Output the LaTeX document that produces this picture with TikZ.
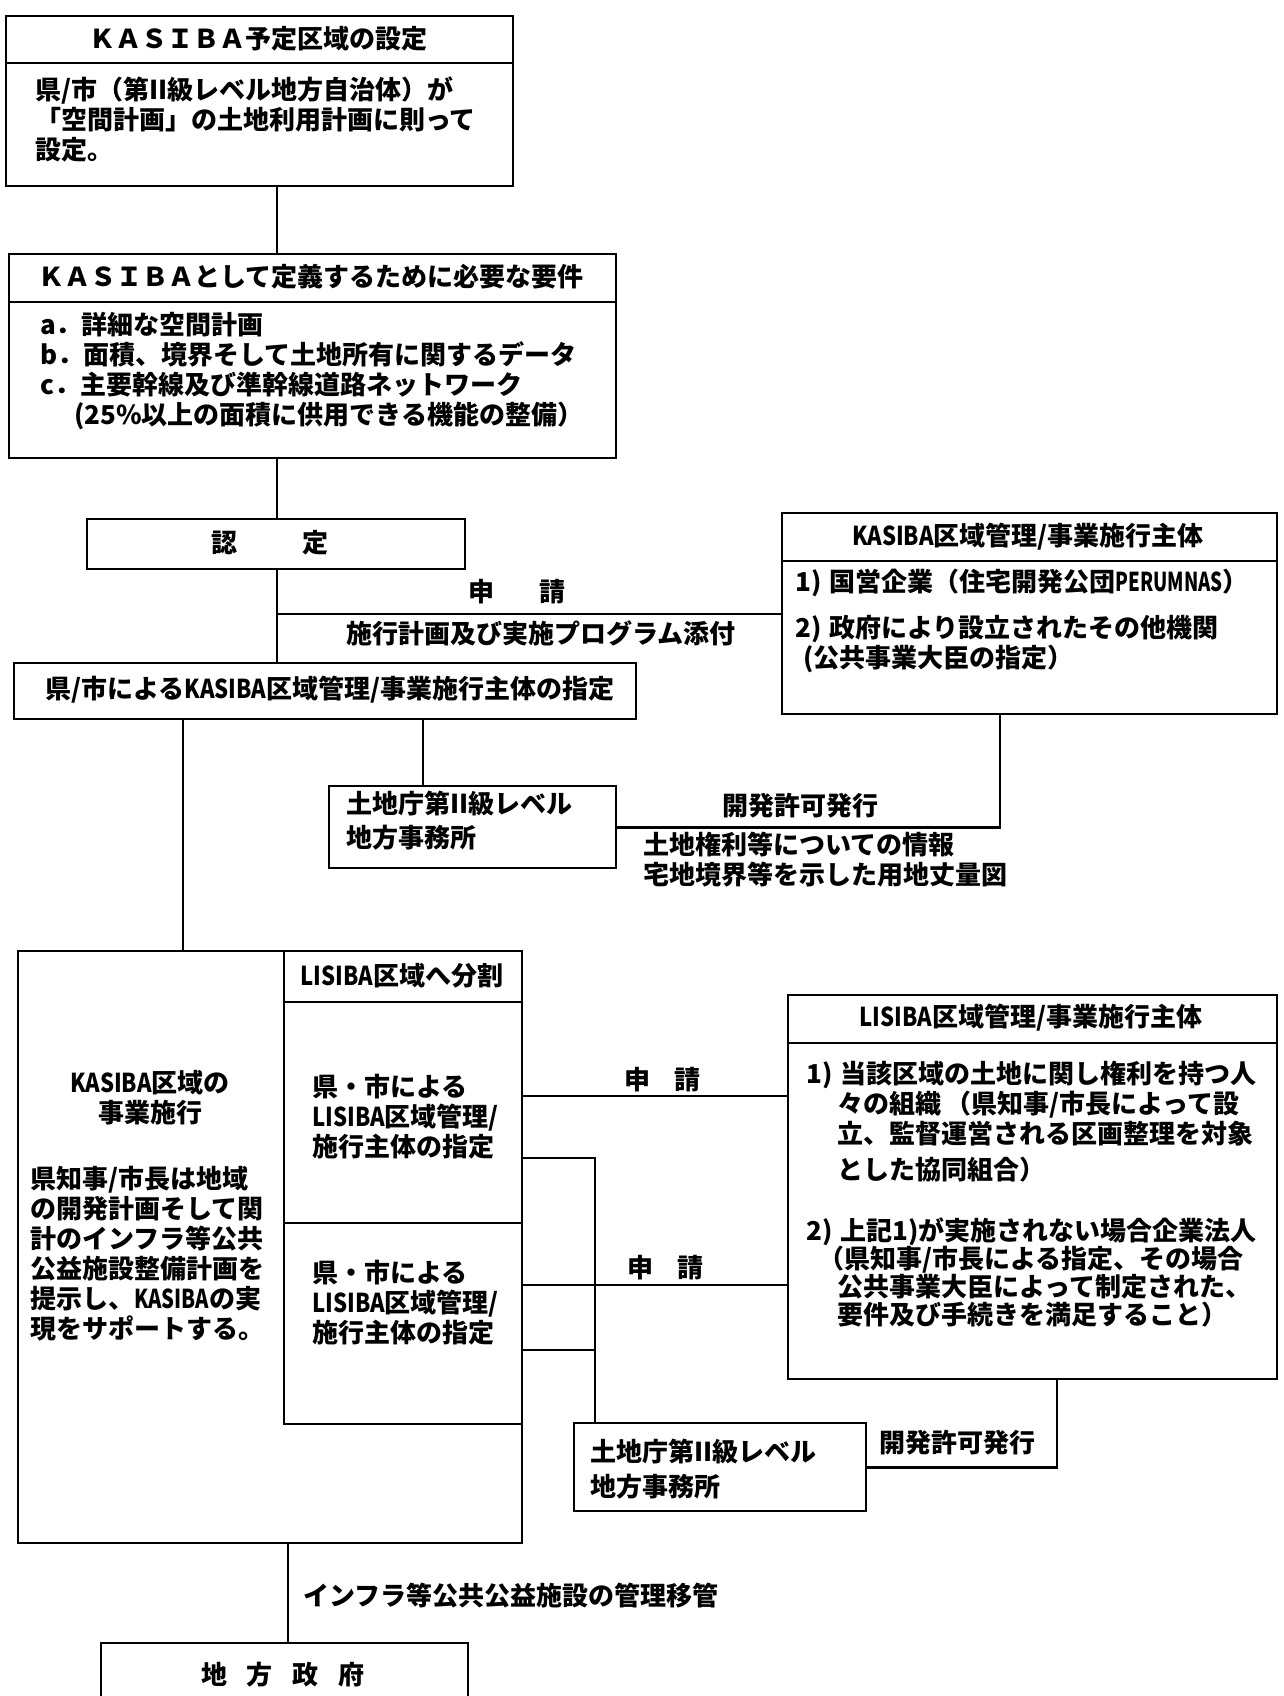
\documentclass[tikz,border=0pt]{standalone}
\usepackage{fontspec}
\usepackage{graphicx}
\setmainfont{Noto Sans CJK JP}
\usetikzlibrary{calc}
\newcommand\jpf{\fontsize{26}{30}\selectfont\bfseries}
\newcommand\cnd[2][0.85]{\scalebox{#1}[1]{#2}}
\begin{document}
\begin{tikzpicture}[x=1pt,y=-1pt,
 box/.style={draw, line width=2.2pt, inner sep=0pt, anchor=north west},
 div/.style={line width=2pt},
 conn/.style={line width=2.8pt},
 lbl/.style={inner sep=0pt, font=\jpf},
 lw/.style={lbl, anchor=west, align=left}]
\fill[white] (0,0) rectangle (1284,1696);
\useasboundingbox (0,0) rectangle (1284,1696);

% box 1
\node[box, minimum width=507pt, minimum height=170pt] (b1) at (5,15) {};
\draw[div] ($(b1.north west)+(0,48)$) -- ($(b1.north east)+(0,48)$);
\node[lbl] (h1) at (258,39) {ＫＡＳＩＢＡ予定区域の設定};
\node[lw] (h1b) at (35,119) {県/市（第II級レベル地方自治体）が\\「空間計画」の土地利用計画に則って\\設定。};

% box 2
\node[box, minimum width=607pt, minimum height=204pt] (b2) at (8,253) {};
\draw[div] ($(b2.north west)+(0,49)$) -- ($(b2.north east)+(0,49)$);
\node[lbl] (h2) at (311,277) {ＫＡＳＩＢＡとして定義するために必要な要件};
\node[lw] (h2b) at (40,371) {a．詳細な空間計画\\b．面積、境界そして土地所有に関するデータ\\c．主要幹線及び準幹線道路ネットワーク\\\hspace*{34pt}(25\%以上の面積に供用できる機能の整備）};

% nintei
\node[box, minimum width=378pt, minimum height=50pt] (nin) at (86,518) {};
\node[lbl] (nint) at (270,543) {認\hspace{66pt}定};

% ken/shi box
\node[box, minimum width=622pt, minimum height=56pt] (kb) at (13,662) {};
\node[lbl] (kbt) at (330,690) {県/市による\cnd{KASIBA}区域管理/事業施行主体の指定};

% KASIBA right box
\node[box, minimum width=495pt, minimum height=201pt] (kr) at (781,512) {};
\draw[div] ($(kr.north west)+(0,49)$) -- ($(kr.north east)+(0,49)$);
\node[lbl] (krh) at (1028,537) {\cnd{KASIBA}区域管理/事業施行主体};
\node[lw] (kr1) at (795,583) {1)\hspace{8pt}国営企業（住宅開発公団\cnd[0.72]{PERUMNAS}）};
\node[lw] (kr2) at (795,644.5) {2)\hspace{8pt}政府により設立されたその他機関\\\hspace*{8pt}(公共事業大臣の指定）};

% tochicho 1
\node[box, minimum width=287pt, minimum height=82pt] (t1) at (328,785) {};
\node[lw] (t1t) at (346,821) {土地庁第II級レベル\\[4pt]地方事務所};

% big box
\node[box, minimum width=504pt, minimum height=592pt] (bb) at (17,950) {};
\node[box, minimum width=238pt, minimum height=473pt] (inner) at (283,950) {};
\draw[div] ($(inner.north west)+(0,52)$) -- ($(inner.north east)+(0,52)$);
\draw[div] ($(inner.north west)+(0,273)$) -- ($(inner.north east)+(0,273)$);
\node[lbl] (lsh) at (402,976) {\cnd{LISIBA}区域へ分割};
\node[lw] (ca) at (312,1117) {県・市による\\\cnd{LISIBA}区域管理/\\施行主体の指定};
\node[lw] (cb) at (312,1303) {県・市による\\\cnd{LISIBA}区域管理/\\施行主体の指定};
\node[lbl, align=center] (kst) at (150,1098) {\cnd{KASIBA}区域の\\事業施行};
\node[lw] (kpar) at (30,1253.5) {県知事/市長は地域\\の開発計画そして関\\計のインフラ等公共\\公益施設整備計画を\\提示し、\cnd[0.78]{KASIBA}の実\\現をサポートする。};

% LISIBA right box
\node[box, minimum width=489pt, minimum height=384pt] (lr) at (787,994) {};
\draw[div] ($(lr.north west)+(0,49)$) -- ($(lr.north east)+(0,49)$);
\node[lbl] (lrh) at (1031,1018) {\cnd{LISIBA}区域管理/事業施行主体};
\node[lw] (l1) at (806,1104) {1)\hspace{8pt}当該区域の土地に関し権利を持つ人\\\hspace*{31pt}々の組織\hspace{4pt}（県知事/市長によって設\\\hspace*{31pt}立、監督運営される区画整理を対象};
\node[lw] (l1d) at (837,1170) {とした協同組合）};
\node[lw, font={\fontsize{26}{28}\selectfont\bfseries}] (l2) at (806,1272) {2)\hspace{8pt}上記1)が実施されない場合企業法人\\\hspace*{12pt}（県知事/市長による指定、その場合\\\hspace*{31pt}公共事業大臣によって制定された、\\\hspace*{31pt}要件及び手続きを満足すること）};

% tochicho 2
\node[box, minimum width=292pt, minimum height=88pt] (t2) at (573,1422) {};
\node[lw] (t2t) at (590,1469.5) {土地庁第II級レベル\\[5pt]地方事務所};

% local government
\node[box, minimum width=367pt, minimum height=90pt] (gov) at (100,1642) {};
\node[lbl] (govt) at (283,1675) {地\hspace{20pt}方\hspace{20pt}政\hspace{20pt}府};

% connectors
\coordinate (xa) at (277,0);
\draw[conn] (b1.south -| xa) -- (b2.north -| xa);
\draw[conn] (b2.south -| xa) -- (nin.north -| xa);
\draw[conn] (nin.south -| xa) -- (kb.north -| xa);
\coordinate (ja) at (277,614);
\draw[conn] (ja) -- (ja -| kr.west);
\node[lbl] (sh1) at (517,592) {申\hspace{45pt}請};
\node[lbl] (sh1b) at (541,633) {施行計画及び実施プログラム添付};

\coordinate (xb) at (183,0);
\draw[conn] (kb.south -| xb) -- (bb.north -| xb);
\coordinate (xc) at (423,0);
\draw[conn] (kb.south -| xc) -- (t1.north -| xc);
\coordinate (xd) at (1000,0);
\draw[conn] (kr.south -| xd) |- (t1.east);
\node[lbl] (kh1) at (800,806) {開発許可発行};
\node[lw] (info) at (643,860) {土地権利等についての情報\\宅地境界等を示した用地丈量図};

\coordinate (xv) at ($(t2.north west)+(22,0)$);
\coordinate (ca1) at (521,1096);
\draw[conn] (ca1) -- (ca1 -| lr.west);
\coordinate (ca2) at (521,1158);
\draw[conn] (ca2) -| (xv);
\coordinate (cb1) at (521,1285);
\draw[conn] (cb1) -- (cb1 -| lr.west);
\coordinate (cb2) at (521,1350);
\draw[conn] (cb2) -- (xv |- cb2);
\node[lbl] (sh2) at (662,1080) {申\hspace{24pt}請};
\node[lbl] (sh3) at (665,1268) {申\hspace{24pt}請};

\coordinate (xe) at (1057,0);
\draw[conn] (lr.south -| xe) |- (t2.east);
\node[lbl] (kh2) at (957,1443) {開発許可発行};

\coordinate (xf) at (288,0);
\draw[conn] (bb.south -| xf) -- (gov.north -| xf);
\node[lw] (inf) at (303,1596) {インフラ等公共公益施設の管理移管};
\end{tikzpicture}
\end{document}
